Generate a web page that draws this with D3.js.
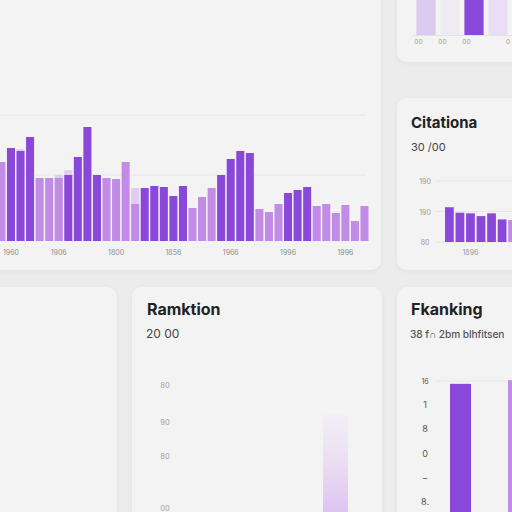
<!DOCTYPE html>
<html><head><meta charset="utf-8">
<script src="https://cdn.jsdelivr.net/npm/d3@7/dist/d3.min.js"></script>
<style>html,body{margin:0;padding:0;background:#ececec;overflow:hidden}svg{display:block}</style>
</head><body>
<script>
// ---- data ----
const mainValues = [79, 93, 90, 104, 63, 63, 63, 66, 84, 114, 66, 63, 62, 79, 37, 53, 55, 54, 45, 55, 33, 44, 53, 66, 82, 90, 88, 32, 29, 37, 48, 51, 54, 35, 37, 28, 36, 20, 35];
const mainTone   = ["l","d","d","d","l","l","l","d","d","d","d","l","l","l","l","d","d","d","d","d","l","l","l","d","d","d","d","l","l","l","d","d","d","l","l","l","l","l","l"];
const mainGhost  = [null,null,92,null,null,null,66,71,null,null,null,null,null,null,53,null,null,null,null,null,null,null,null,null,null,null,null,null,null,null,null,null,null,null,null,null,null,null,null];
const mainTickIdx = [1, 6, 12, 18, 24, 30, 36];
const mainTickLabels = ["1960","1906","1800","1856","1966","1996","1996"];

const topCats = ["a","b","c","d","e"];
const topValues = [120, 120, 120, 120, 120];
const topTone = ["p","v","d","q","l"];
const topTickLabels = ["00","00","00","","0"];

const citeValues = [114, 96, 94, 85, 94, 74, 72];
const citeTone = ["d","d","d","d","d","d","l"];
const citeTicks = [0, 100, 200];
const citeTickLabels = ["80","190","190"];
const citeXLabel = "1896";

const rankTicks = [0, 42, 70, 100];
const rankTickLabels = ["00","80","90","80"];
const rankBarValue = [76];

const fkTickLabels = ["16","1","8","0","–","8."];
const fkValues = [15.8, 16.2];
const fkTone = ["d","l"];

const colors = {d:"#8a48da", l:"#c18be6", p:"#dccbf0", q:"#e9def4", v:"#efebf3"};

// ---- drawing ----
const svg = d3.select("body").append("svg").attr("width",512).attr("height",512);
const defs = svg.append("defs");
const sh = defs.append("filter").attr("id","sh").attr("x","-10%").attr("y","-10%").attr("width","120%").attr("height","120%");
sh.append("feDropShadow").attr("dx",0).attr("dy",1).attr("stdDeviation",2).attr("flood-color","#000").attr("flood-opacity",0.05);
const gr = defs.append("linearGradient").attr("id","gr").attr("x1",0).attr("y1",0).attr("x2",0).attr("y2",1);
gr.append("stop").attr("offset","0%").attr("stop-color","#f1ecf5").attr("stop-opacity",0.6);
gr.append("stop").attr("offset","100%").attr("stop-color","#d9b8ef");

svg.append("rect").attr("width",512).attr("height",512).attr("fill","#ececec");

function card(x,y,w,h,id){
  svg.append("rect").attr("x",x).attr("y",y).attr("width",w).attr("height",h).attr("rx",10)
    .attr("fill","#f3f3f3").attr("filter","url(#sh)");
  defs.append("clipPath").attr("id",id).append("rect").attr("x",x).attr("y",y).attr("width",w).attr("height",h).attr("rx",10);
  return svg.append("g").attr("clip-path",`url(#${id})`);
}
const font = "Inter, 'Liberation Sans', Arial, sans-serif";

// main card
const gM = card(-12, -12, 393, 282, "c1");
const xM = d3.scaleBand().domain(d3.range(mainValues.length)).range([-2.6, 368.5]).paddingInner(0.16).paddingOuter(0);
const yM = d3.scaleLinear().domain([0, 120]).range([241, 121]);
[66, 126].forEach(v => gM.append("line").attr("x1",0).attr("x2",366).attr("y1",yM(v)).attr("y2",yM(v)).attr("stroke","#e7e7e7").attr("stroke-width",1));
gM.selectAll(".ghost").data(mainGhost.map((v,i)=>({v,i})).filter(d=>d.v!==null)).join("rect")
  .attr("x",d=>xM(d.i)).attr("width",xM.bandwidth()).attr("y",d=>yM(d.v)).attr("height",d=>yM(0)-yM(d.v)).attr("fill","#e1cdf1");
gM.selectAll(".bar").data(mainValues).join("rect")
  .attr("x",(d,i)=>xM(i)).attr("width",xM.bandwidth()).attr("y",d=>yM(d)).attr("height",d=>yM(0)-yM(d))
  .attr("fill",(d,i)=>colors[mainTone[i]]);
gM.selectAll(".tk").data(mainTickIdx).join("text")
  .attr("x",d=>xM(d)+xM.bandwidth()/2).attr("y",255).attr("text-anchor","middle")
  .attr("font-family",font).attr("font-size",7).attr("fill","#8f8f8f").text((d,i)=>mainTickLabels[i]);

// top right card
const gT = card(397, -12, 130, 74, "c2");
const xT = d3.scaleBand().domain(topCats).range([414, 534]).paddingInner(0.2).paddingOuter(0.1);
const yT = d3.scaleLinear().domain([0, 100]).range([35, 0]);
gT.selectAll("rect.b").data(topValues).join("rect")
  .attr("x",(d,i)=>xT(topCats[i])).attr("width",xT.bandwidth()).attr("y",d=>yT(d)).attr("height",d=>yT(0)-yT(d))
  .attr("fill",(d,i)=>colors[topTone[i]]);
gT.append("line").attr("x1",412).attr("x2",512).attr("y1",yT(0)+0.5).attr("y2",yT(0)+0.5).attr("stroke","#e3e3e3");
gT.selectAll("text").data(topCats).join("text")
  .attr("x",d=>xT(d)+2).attr("y",44).attr("text-anchor","middle")
  .attr("font-family",font).attr("font-size",6.5).attr("fill","#999").text((d,i)=>topTickLabels[i])
  .filter((d,i)=>i===topCats.length-1).attr("x",510).attr("text-anchor","end");

// citations card
const gC = card(397, 98, 130, 172, "c3");
gC.append("text").attr("x",411).attr("y",128).attr("font-family",font).attr("font-weight",700).attr("font-size",15).attr("fill","#222").text("Citationa");
gC.append("text").attr("x",411).attr("y",151).attr("font-family",font).attr("font-size",11).attr("fill","#444").text("30 /00");
const yC = d3.scaleLinear().domain([0, 200]).range([242, 181]);
const xC = d3.scaleBand().domain(d3.range(citeValues.length)).range([445, 517]).paddingInner(0.17).paddingOuter(0);
citeTicks.forEach((t,i)=>{
  gC.append("line").attr("x1",436).attr("x2",512).attr("y1",yC(t)).attr("y2",yC(t)).attr("stroke","#e6e6e6");
  gC.append("text").attr("x",425).attr("y",yC(t)+3).attr("text-anchor","middle").attr("font-family",font).attr("font-size",7).attr("fill","#9a9a9a").text(citeTickLabels[i]);
});
gC.selectAll("rect.b").data(citeValues).join("rect")
  .attr("x",(d,i)=>xC(i)).attr("width",xC.bandwidth()).attr("y",d=>yC(d)).attr("height",d=>yC(0)-yC(d))
  .attr("fill",(d,i)=>colors[citeTone[i]]);
gC.append("text").attr("x",xC(2)+xC.bandwidth()/2).attr("y",255).attr("text-anchor","middle").attr("font-family",font).attr("font-size",7).attr("fill","#9a9a9a").text(citeXLabel);

// bottom left empty card
card(-12, 287, 129, 240, "c4");

// Ramktion card
const gR = card(132, 287, 250, 240, "c5");
gR.append("text").attr("x",147).attr("y",315).attr("font-family",font).attr("font-weight",700).attr("font-size",16).attr("fill","#222").text("Ramktion");
gR.append("text").attr("x",146).attr("y",338).attr("font-family",font).attr("font-size",12).attr("fill","#444").text("20 00");
const yR = d3.scaleLinear().domain([0, 100]).range([508, 385]);
gR.selectAll("text.tk").data(rankTicks).join("text").attr("class","tk")
  .attr("x",165).attr("y",d=>yR(d)+3).attr("text-anchor","middle").attr("font-family",font).attr("font-size",7.5).attr("fill","#a0a0a0")
  .text((d,i)=>rankTickLabels[i]);
const xR = d3.scaleBand().domain(["a"]).range([323, 348]);
gR.selectAll("rect.b").data(rankBarValue).join("rect")
  .attr("x",xR("a")).attr("width",xR.bandwidth()).attr("y",d=>yR(d)).attr("height",d=>530-yR(d)).attr("fill","url(#gr)");

// Fkanking card
const gF = card(397, 287, 130, 240, "c6");
gF.append("text").attr("x",411).attr("y",315).attr("font-family",font).attr("font-weight",700).attr("font-size",16).attr("fill","#222").text("Fkanking");
gF.append("text").attr("x",410).attr("y",338).attr("font-family",font).attr("font-weight",500).attr("font-size",10.2).attr("letter-spacing",-0.1).attr("fill","#555").text("38 f\u2229 2bm blhfitsen");
const yFt = d3.scalePoint().domain(d3.range(fkTickLabels.length)).range([381, 502]);
gF.selectAll("text.tk").data(fkTickLabels).join("text").attr("class","tk")
  .attr("x",425).attr("y",(d,i)=>yFt(i)+3).attr("text-anchor","middle").attr("font-family",font).attr("font-size",(d,i)=>i===0?7:9).attr("fill","#555")
  .text(d=>d);
gF.append("line").attr("x1",435).attr("x2",512).attr("y1",381).attr("y2",381).attr("stroke","#e6e6e6");
const yF = d3.scaleLinear().domain([0, 16]).range([530, 382]);
const xF = d3.scaleBand().domain([0,1]).range([450, 537]).paddingInner(0.5).paddingOuter(0);
gF.selectAll("rect.b").data(fkValues).join("rect")
  .attr("x",(d,i)=>xF(i)).attr("width",(d,i)=>i===0?21:xF.bandwidth()).attr("y",d=>yF(d)).attr("height",d=>530-yF(d))
  .attr("fill",(d,i)=>colors[fkTone[i]]);
</script>
</body></html>
